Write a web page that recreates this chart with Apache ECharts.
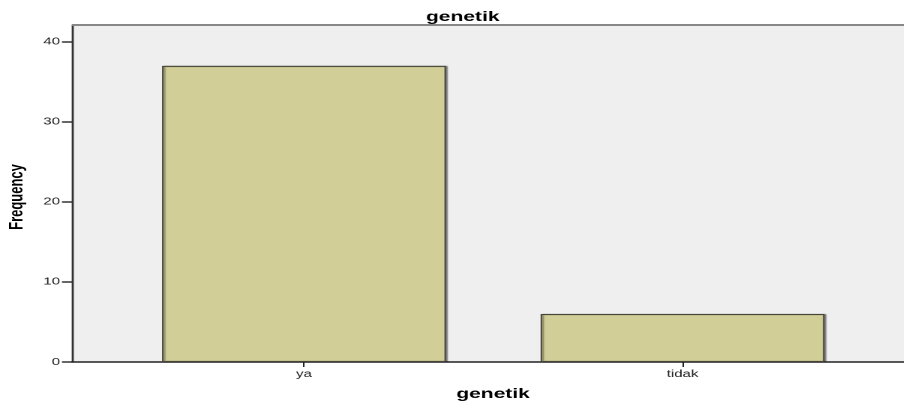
<!DOCTYPE html>
<html><head><meta charset="utf-8">
<script src="https://cdn.jsdelivr.net/npm/echarts@6/dist/echarts.min.js"></script>
<style>
html,body{margin:0;padding:0;background:#fff;overflow:hidden}
#wrap{width:905px;height:408px;overflow:hidden}
#c{width:603.33px;height:408px;transform:scaleX(1.5);transform-origin:0 0}
</style>
</head><body><div id="wrap"><div id="c"></div></div>
<script>
const categories = ['ya', 'tidak'];
const frequency = [37, 6];
const yTicks = [0, 10, 20, 30, 40];

const chart = echarts.init(document.getElementById('c'), null, {renderer: 'canvas', devicePixelRatio: 2});
const font = '"Liberation Sans", Arial, sans-serif';
chart.setOption({
  animation: false,
  title: {text: 'genetik', left: 303.5, top: 5, textAlign: 'center',
    textStyle: {fontFamily: font, fontSize: 14, fontWeight: 'bold', color: '#000'}},
  grid: [
    {left: 48, right: 0, top: 25, bottom: 46, show: true, backgroundColor: '#efefef', borderWidth: 0},
    {left: 76.5, width: 504.7, top: 25, bottom: 46}
  ],
  xAxis: [
    {gridIndex: 0, type: 'value', min: 0, max: 1, show: true,
      axisLine: {show: true, onZero: false, lineStyle: {color: '#222', width: 1.6}},
      axisTick: {show: false}, axisLabel: {show: false}, splitLine: {show: false}},
    {gridIndex: 1, type: 'category', data: categories,
      axisLine: {show: false},
      axisTick: {show: true, alignWithLabel: true, length: 5, lineStyle: {color: '#222', width: 1}},
      axisLabel: {fontFamily: font, fontSize: 10, color: '#222', margin: 7}}
  ],
  yAxis: [
    {gridIndex: 0, type: 'value', min: 0, max: 42.1,
      axisLine: {show: true, lineStyle: {color: '#333', width: 1.4}},
      axisTick: {show: true, length: 6.7, customValues: yTicks, lineStyle: {color: '#333', width: 1.5}},
      axisLabel: {fontFamily: font, fontSize: 10, color: '#222', margin: 8, customValues: yTicks},
      splitLine: {show: false}},
    {gridIndex: 1, type: 'value', min: 0, max: 42.1, show: false}
  ],
  graphic: [
    {type: 'line', shape: {x1: 48, y1: 25, x2: 604, y2: 25}, style: {stroke: '#888', lineWidth: 2}, z: 10},
    {type: 'text', x: 328.7, y: 394, style: {text: 'genetik', fontFamily: font, fontSize: 14, fontWeight: 'bold',
      fill: '#000', align: 'center', verticalAlign: 'middle'}},
    {type: 'text', x: 11.5, y: 197, rotation: Math.PI / 2, style: {text: 'Frequency', fontFamily: font, fontSize: 13,
      fontWeight: 'bold', fill: '#000', align: 'center', verticalAlign: 'middle'}}
  ],
  series: [{
    type: 'bar', xAxisIndex: 1, yAxisIndex: 1, data: frequency, barWidth: '75%',
    itemStyle: {color: '#d2ce98', borderColor: '#444438', borderWidth: 1,
      shadowColor: 'rgba(0,0,0,0.4)', shadowOffsetX: 1.2, shadowOffsetY: 0, shadowBlur: 1}
  }]
});
</script></body></html>
